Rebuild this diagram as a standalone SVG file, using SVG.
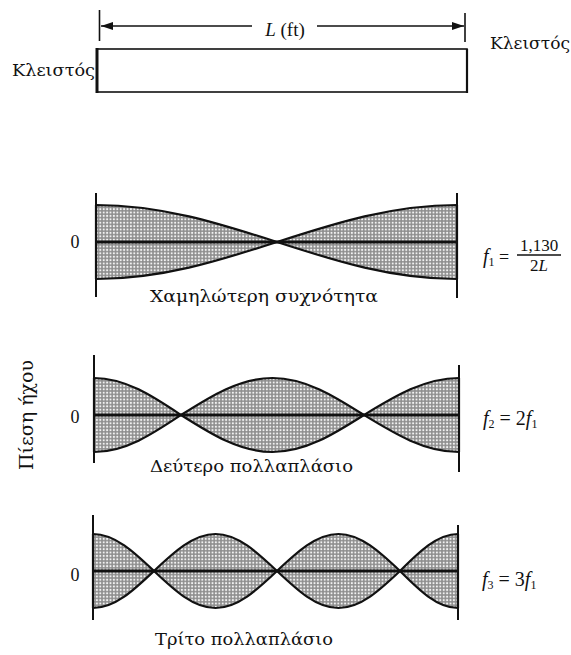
<svg xmlns="http://www.w3.org/2000/svg" width="571" height="655" viewBox="0 0 571 655">
<style>
text{font-family:"DejaVu Serif","Liberation Serif",serif;fill:#111}
.lbl{font-size:16px}
.zero{font-size:18px;font-family:"Liberation Serif",serif}
.cap{font-size:16px}
.it{font-style:italic}
.math{font-family:"Liberation Serif",serif}
.wall{stroke:#111;stroke-width:2;fill:none}
.env{fill:url(#dots);stroke:#111;stroke-width:2.2;stroke-linejoin:round}
.axis{stroke:#111;stroke-width:3}
.dim{stroke:#111;stroke-width:1.6;fill:none}
</style>
<defs>
<pattern id="dots" width="3.4" height="3.4" patternUnits="userSpaceOnUse">
<rect width="3.4" height="3.4" fill="#8e8e8e"/>
<circle cx="1.7" cy="1.7" r="1.05" fill="#f2f2f2"/>
</pattern>
<marker id="arr" viewBox="0 0 12 8" refX="12" refY="4" markerWidth="12" markerHeight="8" markerUnits="userSpaceOnUse" orient="auto-start-reverse">
<path d="M0,0 L12,4 L0,8 Z" fill="#111"/>
</marker>
</defs>

<g id="connectors">
<line class="dim" x1="252" y1="26" x2="101" y2="26" marker-end="url(#arr)"/>
<line class="dim" x1="317" y1="26" x2="464" y2="26" marker-end="url(#arr)"/>
</g>

<g id="dimension">
<line class="dim" x1="99.5" y1="10" x2="99.5" y2="41"/>
<line class="dim" x1="465" y1="13" x2="465" y2="42"/>
<text class="math" x="285" y="36" font-size="19" text-anchor="middle"><tspan class="it">L</tspan> (ft)</text>
</g>

<g id="tube">
<rect x="97" y="49" width="370" height="43" fill="#fff" stroke="#111" stroke-width="1.6"/>
<line x1="97" y1="48" x2="97" y2="93" stroke="#111" stroke-width="3"/>
<line x1="467" y1="49" x2="467" y2="93" stroke="#111" stroke-width="2.2"/>
<text class="lbl" x="12" y="76" textLength="83" lengthAdjust="spacingAndGlyphs">Κλειστός</text>
<text class="lbl" x="490" y="49" textLength="80" lengthAdjust="spacingAndGlyphs">Κλειστός</text>
</g>

<g id="ylabel">
<text x="33" y="415" font-size="18" text-anchor="middle" transform="rotate(-90 33 415)" textLength="110" lengthAdjust="spacingAndGlyphs">Πίεση ήχου</text>
</g>

<g id="mode1">
<path class="env" d="M96,205 C161.5,205 218,223 277,242 C335.7,223 391.8,205 457,205 L457,279 C391.8,279 335.7,261 277,242 C218,261 161.5,279 96,279 Z"/>
<line class="axis" x1="96" y1="242" x2="457" y2="242"/>
<line class="wall" x1="96" y1="193" x2="96" y2="297"/>
<line class="wall" x1="457" y1="193" x2="457" y2="298"/>
<text class="zero" x="75" y="248" text-anchor="middle">0</text>
<text class="cap" x="150" y="302" textLength="228" lengthAdjust="spacingAndGlyphs">Χαμηλώτερη συχνότητα</text>
<text class="math" x="483" y="263" font-size="20"><tspan class="it">f</tspan><tspan font-size="12" dy="3">1</tspan><tspan dy="-3" font-size="18"> =</tspan></text>
<text class="math" x="539" y="251" font-size="17" text-anchor="middle">1,130</text>
<line x1="517" y1="255" x2="561" y2="255" stroke="#111" stroke-width="1.4"/>
<text class="math" x="539" y="271" font-size="17" text-anchor="middle">2<tspan class="it">L</tspan></text>
</g>

<g id="mode2">
<path class="env" d="M94,378 C125.5,378 152.6,396.1 181,415 C210.8,396.1 239.4,378 272.5,378 C305.6,378 334.2,396.1 364,415 C395,396.1 424.6,378 459,378 L459,452 C424.6,452 395,433.9 364,415 C334.2,433.9 305.6,452 272.5,452 C239.4,452 210.8,433.9 181,415 C152.6,433.9 125.5,452 94,452 Z"/>
<line class="axis" x1="94" y1="415" x2="459" y2="415"/>
<line class="wall" x1="94" y1="355" x2="94" y2="463"/>
<line class="wall" x1="459" y1="365" x2="459" y2="472"/>
<text class="zero" x="75" y="423" text-anchor="middle">0</text>
<text class="cap" x="150" y="472" textLength="203" lengthAdjust="spacingAndGlyphs">Δεύτερο πολλαπλάσιο</text>
<text class="math" x="483" y="425" font-size="20"><tspan class="it">f</tspan><tspan font-size="12" dy="3">2</tspan><tspan dy="-3"> = 2</tspan><tspan class="it">f</tspan><tspan font-size="12" dy="3">1</tspan></text>
</g>

<g id="mode3">
<path class="env" d="M93,534 C115.1,534 134.1,552.1 154,571 C174,552.1 193.2,534 215.5,534 C237.8,534 257,552.1 277,571 C297,552.1 316.2,534 338.5,534 C360.8,534 380,552.1 400,571 C418.9,552.1 437,534 458,534 L458,608 C437,608 418.9,589.9 400,571 C380,589.9 360.8,608 338.5,608 C316.2,608 297,589.9 277,571 C257,589.9 237.8,608 215.5,608 C193.2,608 174,589.9 154,571 C134.1,589.9 115.1,608 93,608 Z"/>
<line class="axis" x1="93" y1="571" x2="458" y2="571"/>
<line class="wall" x1="93" y1="515" x2="93" y2="620"/>
<line class="wall" x1="458" y1="525" x2="458" y2="620"/>
<text class="zero" x="75" y="581" text-anchor="middle">0</text>
<text class="cap" x="155" y="645" textLength="178" lengthAdjust="spacingAndGlyphs">Τρίτο πολλαπλάσιο</text>
<text class="math" x="482" y="586" font-size="20"><tspan class="it">f</tspan><tspan font-size="12" dy="3">3</tspan><tspan dy="-3"> = 3</tspan><tspan class="it">f</tspan><tspan font-size="12" dy="3">1</tspan></text>
</g>
</svg>
